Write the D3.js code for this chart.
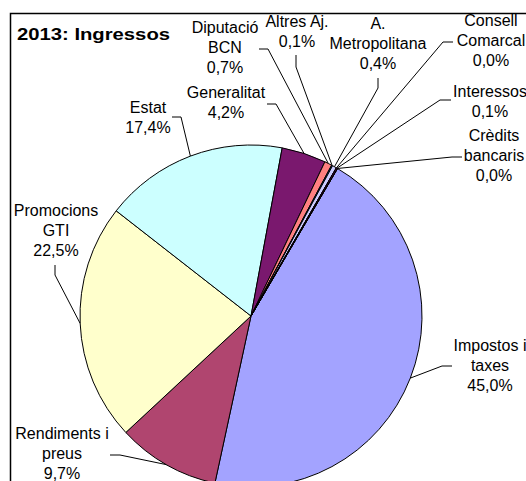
<!DOCTYPE html>
<html>
<head>
<meta charset="utf-8">
<script src="https://cdn.jsdelivr.net/npm/d3@7"></script>
<style>
  html, body { margin: 0; padding: 0; background: #fff; }
  svg { display: block; }
  text { font-family: "Liberation Sans", Arial, sans-serif; }
</style>
</head>
<body>
<svg id="chart" width="526" height="481"></svg>
<script>
// ---- data ----
const categories = ["Impostos i taxes", "Rendiments i preus", "Promocions GTI", "Estat", "Generalitat",
  "Diputació BCN", "Altres Aj.", "A. Metropolitana", "Consell Comarcal", "Interessos", "Crèdits bancaris"];
const labelLines = [["Impostos i", "taxes"], ["Rendiments i", "preus"], ["Promocions", "GTI"], ["Estat"],
  ["Generalitat"], ["Diputació", "BCN"], ["Altres Aj."], ["A.", "Metropolitana"], ["Consell", "Comarcal"],
  ["Interessos"], ["Crèdits", "bancaris"]];
const values = [45.0, 9.7, 22.5, 17.4, 4.2, 0.7, 0.1, 0.4, 0.02, 0.1, 0.01];
const colors = ["#A3A3FF", "#B0456F", "#FFFFCC", "#CCFFFF", "#7A186E", "#FF8080", "#0066CC", "#CCCCFF",
  "#000080", "#FF00FF", "#FFFF00"];
const title = "2013: Ingressos";

// ---- layout (label anchors & leader elbows) ----
const labelPos = [[490, 351], [62, 439], [56, 216], [148, 113], [226, 98], [225, 33], [297, 27],
  [378, 29], [491, 26], [490, 97], [494, 141]];
const leaderPts = [
  [[452, 366], [442, 366]], [[110, 455], [120, 455]], [[55, 265], [55, 275]], [[172, 117], [181, 117]],
  [[267, 104], [276, 104]], [[259, 49], [268, 49]], [[296, 55], [296, 67]], [[378, 78], [378, 88]],
  [[453, 42], [443, 42]], [[451, 100], [440, 100]], [[462, 157], [452, 157]]
];

const svg = d3.select("#chart");
const cx = 251, cy = 316, R = 171;
const start = 30.4 * Math.PI / 180;

// frame
svg.append("rect").attr("x", 10.5).attr("y", 13.5).attr("width", 700).attr("height", 700)
  .attr("fill", "#fff").attr("stroke", "#000").attr("stroke-width", 1.5);

const pie = d3.pie().sort(null).value(d => d).startAngle(start).endAngle(start + 2 * Math.PI);
const arcs = pie(values);
const arc = d3.arc().innerRadius(0).outerRadius(R);

const g = svg.append("g").attr("transform", `translate(${cx},${cy})`);
g.selectAll("path").data(arcs).join("path")
  .attr("d", arc)
  .attr("fill", (d, i) => colors[i])
  .attr("stroke", "#000").attr("stroke-width", 1).attr("stroke-linejoin", "round");

// leader lines
const line = d3.line();
arcs.forEach((d, i) => {
  const m = (d.startAngle + d.endAngle) / 2;
  const edge = [cx + R * Math.sin(m), cy - R * Math.cos(m)];
  const pts = leaderPts[i].concat([edge]);
  svg.append("path").attr("d", line(pts)).attr("fill", "none")
    .attr("stroke", "#000").attr("stroke-width", 1);
});

// labels
const fmt = v => d3.format(".1f")(v).replace(".", ",") + "%";
arcs.forEach((d, i) => {
  const lines = labelLines[i].concat([fmt(values[i])]);
  const t = svg.append("text").attr("text-anchor", "middle")
    .attr("font-size", 16).attr("fill", "#000");
  lines.forEach((s, k) => {
    t.append("tspan").attr("x", labelPos[i][0]).attr("y", labelPos[i][1] + k * 20).text(s);
  });
});

// title
svg.append("text").attr("x", 17).attr("y", 40).attr("font-size", 16.5).attr("font-weight", "bold")
  .attr("textLength", 153).attr("lengthAdjust", "spacingAndGlyphs").text(title);
</script>
</body>
</html>
